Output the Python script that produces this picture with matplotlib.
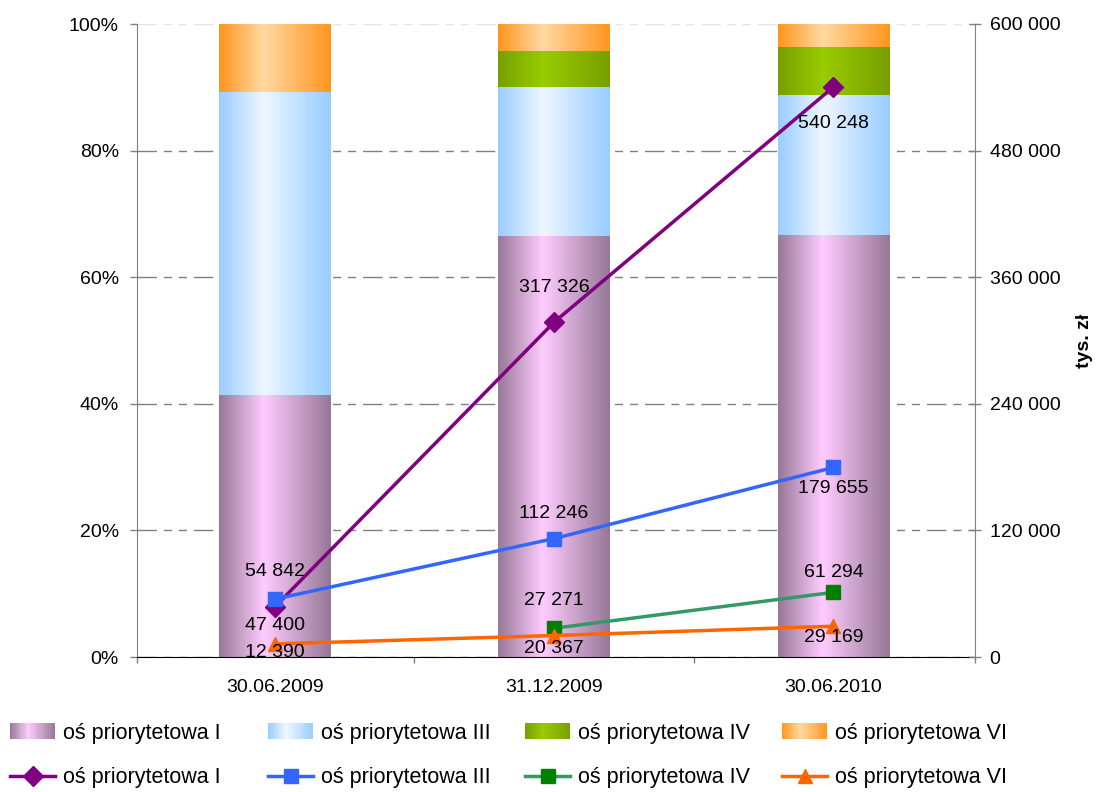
import numpy as np
import matplotlib
matplotlib.use("Agg")
import matplotlib.pyplot as plt
from matplotlib.colors import LinearSegmentedColormap
from matplotlib.legend_handler import HandlerBase
from matplotlib.patches import Rectangle, Patch
from matplotlib.ticker import FuncFormatter, FixedLocator

plt.rcParams["font.family"] = ["Liberation Sans", "DejaVu Sans"]

# data (tys. zł)
dates = ["30.06.2009", "31.12.2009", "30.06.2010"]
series_names = ["oś priorytetowa I", "oś priorytetowa III", "oś priorytetowa IV", "oś priorytetowa VI"]
os_I = [47400, 317326, 540248]
os_III = [54842, 112246, 179655]
os_IV = [np.nan, 27271, 61294]
os_VI = [12390, 20367, 29169]
right_ticks = [0, 120000, 240000, 360000, 480000, 600000]
left_ticks = [0, 20, 40, 60, 80, 100]

# styles
bar_edge = ["#967896", "#99ccff", "#779f00", "#ff961e"]
bar_mid = ["#ffccff", "#eef7ff", "#99cc00", "#ffd9a2"]
line_col = ["#800080", "#3366ff", "#339966", "#ff6600"]
mark_col = ["#800080", "#3366ff", "#008000", "#ff6600"]
markers = ["D", "s", "s", "^"]
msizes = [10, 10, 10, 10]
label_dy = [[-13, 25, -26], [20, 18, -15], [0, 20, 14], [-6, -9, -8]]  # offset points

values = np.array([os_I, os_III, os_IV, os_VI], dtype=float)
totals = np.nansum(values, axis=0)
shares = np.nan_to_num(values) / totals * 100

cmaps = [LinearSegmentedColormap.from_list("g%d" % i, [(0, e), (0.4, m), (1, e)])
         for i, (e, m) in enumerate(zip(bar_edge, bar_mid))]

fig = plt.figure(figsize=(10.98, 7.92), dpi=100)
ax = fig.add_axes([137 / 1098, 1 - 657 / 792, 838 / 1098, 633 / 792])
x = np.arange(len(dates))

grad = np.linspace(0, 1, 256).reshape(1, -1)
bottom = np.zeros(len(dates))
for i in range(len(series_names)):
    bars = ax.bar(x, shares[i], width=0.4, bottom=bottom, color="none", edgecolor="none", zorder=2)
    for rect in bars:
        if rect.get_height() <= 0:
            continue
        x0, y0 = rect.get_x(), rect.get_y()
        ax.imshow(grad, cmap=cmaps[i], aspect="auto", interpolation="bilinear", zorder=2,
                  extent=(x0, x0 + rect.get_width(), y0, y0 + rect.get_height()))
    bottom += shares[i]

ax.set_xlim(-0.493, 2.507)
ax.set_ylim(0, 100)
ax.set_yticks(left_ticks)
ax.set_yticklabels(["%d%%" % t for t in left_ticks], fontsize=14)
ax.set_xticks(x)
ax.set_xticklabels(dates, fontsize=14)
ax.xaxis.set_minor_locator(FixedLocator([-0.493, 0.5, 1.5, 2.507]))
ax.tick_params(axis="x", which="major", length=0, pad=16)
ax.tick_params(axis="x", which="minor", length=4.5, color="#808080", width=1)
ax.tick_params(axis="y", length=5, color="#808080", width=1, pad=8)
ax.set_axisbelow(True)
ax.yaxis.grid(True, color="#808080", linewidth=1, dashes=(14, 5, 5.8, 5, 5.8, 5))
ax.yaxis.get_major_ticks()[-1].gridline.set_color("#e4e4e4")
for s in ["top", "right"]:
    ax.spines[s].set_visible(False)
ax.spines["left"].set_color("#808080")
ax.spines["bottom"].set_color("black")

ax2 = ax.twinx()
lines = []
for i in range(len(series_names)):
    ln, = ax2.plot(x, values[i], color=line_col[i], linewidth=2.5, marker=markers[i],
                   markersize=msizes[i], markerfacecolor=mark_col[i], markeredgecolor=mark_col[i],
                   zorder=3)
    lines.append(ln)
    for j, v in enumerate(values[i]):
        if np.isnan(v):
            continue
        ax2.annotate(f"{v:,.0f}".replace(",", " "), (x[j], v), xytext=(0, label_dy[i][j]),
                     textcoords="offset points", ha="center", va="center", fontsize=14, zorder=4)
ax2.set_ylim(0, 600000)
ax2.set_yticks(right_ticks)
ax2.yaxis.set_major_formatter(FuncFormatter(lambda v, p: f"{v:,.0f}".replace(",", " ")))
ax2.tick_params(axis="y", labelsize=14, direction="inout", length=9, color="#808080", width=1, pad=6)
for s in ["top", "left", "bottom"]:
    ax2.spines[s].set_visible(False)
ax2.spines["right"].set_color("#808080")
ax2.set_ylabel("tys. zł", fontsize=14, fontweight="bold", rotation=90)
ax2.yaxis.set_label_coords((1076 - 137) / 838, 0.5)


class GradientHandler(HandlerBase):
    def __init__(self, cmap):
        super().__init__()
        self.cmap = cmap

    def create_artists(self, legend, orig_handle, xdescent, ydescent, width, height, fontsize, trans):
        n = 40
        arts = []
        for k in range(n):
            arts.append(Rectangle((-xdescent + width * k / n, -ydescent), width / n * 1.1, height,
                                  facecolor=self.cmap((k + 0.5) / n), edgecolor="none", transform=trans))
        return arts


col_x = [10, 268, 525, 782]
for i, name in enumerate(series_names):
    h = Patch(facecolor=bar_mid[i])
    fig.legend([h], [name], loc="center left", bbox_to_anchor=(col_x[i] / 1098, 1 - 733 / 792),
               frameon=False, fontsize=15.5, borderpad=0, borderaxespad=0, handlelength=2.1,
               handleheight=0.75, handletextpad=0.35, handler_map={h: GradientHandler(cmaps[i])})
    fig.legend([lines[i]], [name], loc="center left", bbox_to_anchor=(col_x[i] / 1098, 1 - 778 / 792),
               frameon=False, fontsize=15.5, borderpad=0, borderaxespad=0, handlelength=2.1,
               handletextpad=0.35)

plt.savefig("out.png", dpi=100)
